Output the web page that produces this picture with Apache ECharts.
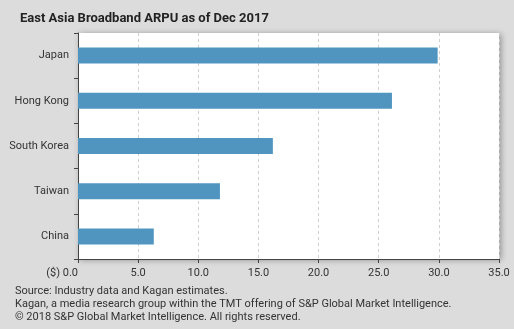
<!DOCTYPE html>
<html><head><meta charset="utf-8">
<script src="https://cdn.jsdelivr.net/npm/echarts@6/dist/echarts.min.js"></script>
<style>html,body{margin:0;padding:0;background:#dcdcdc;}#c{width:514px;height:329px;}</style>
</head><body><div id="c"></div>
<script>
const categories = ['Japan', 'Hong Kong', 'South Korea', 'Taiwan', 'China'];
const arpu = [29.9, 26.1, 16.2, 11.8, 6.3];
const xTicks = { min: 0, max: 35, interval: 5 };
const title = 'East Asia Broadband ARPU as of Dec 2017';
const notes = [
  'Source: Industry data and Kagan estimates.',
  'Kagan, a media research group within the TMT offering of S&P Global Market Intelligence.',
  '\u00a9 2018 S&P Global Market Intelligence. All rights reserved.'
];
const FONT = 'Roboto';
const chart = echarts.init(document.getElementById('c'), null, {renderer: 'canvas'});
chart.setOption({
  backgroundColor: '#dcdcdc',
  animation: false,
  title: { text: title, left: 15, top: 7, textStyle: { fontFamily: FONT, fontSize: 13, fontWeight: 'bold', color: '#222' } },
  grid: { left: 78, right: 15, top: 33, bottom: 70, show: true, backgroundColor: '#fff', borderWidth: 0,
          shadowBlur: 6, shadowColor: 'rgba(0,0,0,0.35)', shadowOffsetX: 2, shadowOffsetY: 1 },
  xAxis: {
    type: 'value', min: xTicks.min, max: xTicks.max, interval: xTicks.interval,
    axisLine: { show: true, lineStyle: { color: '#444' } },
    axisTick: { show: true, length: 4, lineStyle: { color: '#444' } },
    axisLabel: { fontFamily: FONT, fontSize: 11, color: '#333', margin: 9, alignMinLabel: 'right',
      formatter: v => v === 0 ? '($) 0.0' : v.toFixed(1) },
    splitLine: { show: true, lineStyle: { color: '#cfcfcf', type: [3, 3] } }
  },
  yAxis: {
    type: 'category', data: categories, inverse: true,
    axisLine: { show: true, lineStyle: { color: '#444' } },
    axisTick: { show: true, length: 4, lineStyle: { color: '#444' } },
    axisLabel: { fontFamily: FONT, fontSize: 11, color: '#333', margin: 9 }
  },
  series: [{ type: 'bar', data: arpu, barWidth: 16, itemStyle: { color: '#4f95c0' } }],
  graphic: notes.map((t, i) => ({
    type: 'text', left: 15, top: 286 + i * 13,
    style: { text: t, fontFamily: FONT, fontSize: 11, fill: '#333' }
  }))
});
</script></body></html>
